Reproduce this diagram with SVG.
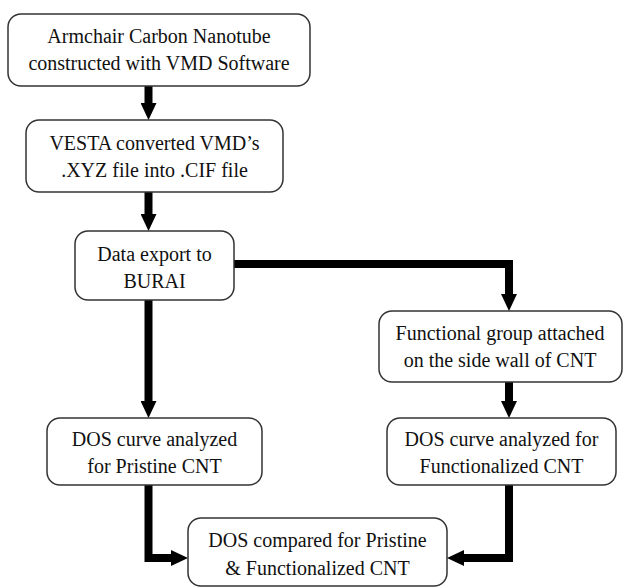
<svg xmlns="http://www.w3.org/2000/svg" width="623" height="587" viewBox="0 0 623 587">
<defs>
<style>
.box{fill:#fff;stroke:#333;stroke-width:1.5}
.t{font-family:"Liberation Serif","Times New Roman",serif;font-size:20px;fill:#111;text-anchor:middle}
.c{fill:none;stroke:#000;stroke-width:8;stroke-linejoin:miter;stroke-linecap:butt}
</style>
<marker id="ah" markerUnits="userSpaceOnUse" markerWidth="17" markerHeight="16" refX="6" refY="8" orient="auto">
<path d="M0,0 L17,8 L0,16 z" fill="#000"/>
</marker>
</defs>
<rect width="623" height="587" fill="#fff"/>
<g id="connectors">
<path class="c" d="M148.5,86 V109" marker-end="url(#ah)"/>
<path class="c" d="M148.5,192 V220" marker-end="url(#ah)"/>
<path class="c" d="M234,264 H509 V300" marker-end="url(#ah)"/>
<path class="c" d="M148.5,300 V407" marker-end="url(#ah)"/>
<path class="c" d="M509,382 V407" marker-end="url(#ah)"/>
<path class="c" d="M148.5,485 V558 H177" marker-end="url(#ah)"/>
<path class="c" d="M509,485 V558 H458" marker-end="url(#ah)"/>
</g>
<g id="n1">
<rect class="box" x="8" y="14" width="302" height="72" rx="13"/>
<text class="t" x="159" y="43">Armchair Carbon Nanotube</text>
<text class="t" x="159" y="70">constructed with VMD Software</text>
</g>
<g id="n2">
<rect class="box" x="26" y="120" width="257" height="72" rx="13"/>
<text class="t" x="154.5" y="150">VESTA converted VMD’s</text>
<text class="t" x="154.5" y="177">.XYZ file into .CIF file</text>
</g>
<g id="n3">
<rect class="box" x="75" y="231" width="159" height="69" rx="13"/>
<text class="t" x="154.5" y="261">Data export to</text>
<text class="t" x="154.5" y="288">BURAI</text>
</g>
<g id="n4">
<rect class="box" x="379" y="311" width="243" height="71" rx="13"/>
<text class="t" x="500" y="340">Functional group attached</text>
<text class="t" x="500" y="367">on the side wall of CNT</text>
</g>
<g id="n5">
<rect class="box" x="387" y="418" width="229" height="67" rx="13"/>
<text class="t" x="501.5" y="446">DOS curve analyzed for</text>
<text class="t" x="501.5" y="473">Functionalized CNT</text>
</g>
<g id="n6">
<rect class="box" x="47" y="418" width="215" height="67" rx="13"/>
<text class="t" x="154.5" y="446">DOS curve analyzed</text>
<text class="t" x="154.5" y="473">for Pristine CNT</text>
</g>
<g id="n7">
<rect class="box" x="188" y="518" width="259" height="68" rx="13"/>
<text class="t" x="317.5" y="547">DOS compared for Pristine</text>
<text class="t" x="317.5" y="575">&amp; Functionalized CNT</text>
</g>
</svg>
